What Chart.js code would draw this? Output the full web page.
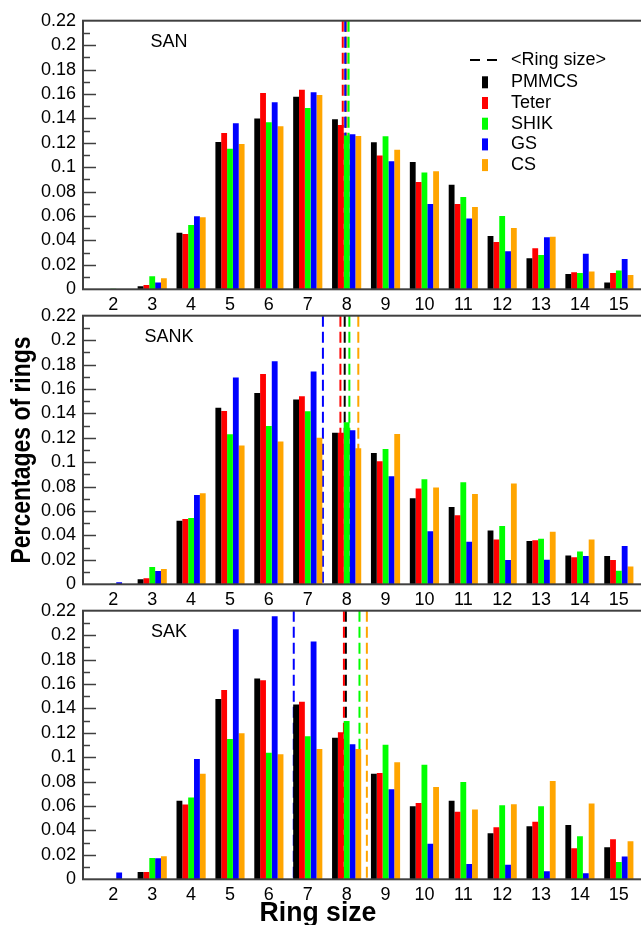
<!DOCTYPE html>
<html>
<head>
<meta charset="utf-8">
<script src="https://cdn.jsdelivr.net/npm/chart.js@4.4.1/dist/chart.umd.min.js"></script>
<style>
  html, body { margin: 0; padding: 0; background: #fff; overflow: hidden; width: 641px; height: 925px; }
  canvas { position: absolute; left: 0; }
</style>
</head>
<body>
<canvas id="san" width="660" height="320" style="top:0px"></canvas>
<canvas id="sank" width="660" height="320" style="top:295px"></canvas>
<canvas id="sak" width="660" height="335" style="top:590px"></canvas>
<script>
const ringSizes = [2, 3, 4, 5, 6, 7, 8, 9, 10, 11, 12, 13, 14, 15];
const seriesNames = ['PMMCS', 'Teter', 'SHIK', 'GS', 'CS'];
const seriesColors = ['#000000', '#ff0000', '#00ff00', '#0000ff', '#ffa500'];
const yTicks = [0, 0.02, 0.04, 0.06, 0.08, 0.1, 0.12, 0.14, 0.16, 0.18, 0.2, 0.22];
const yTickLabels = ['0', '0.02', '0.04', '0.06', '0.08', '0.1', '0.12', '0.14', '0.16', '0.18', '0.2', '0.22'];

// SAN
const sanPMMCS = [0, 0.0025, 0.0464, 0.1207, 0.1398, 0.1578, 0.1392, 0.1204, 0.1043, 0.0857, 0.0437, 0.0254, 0.0126, 0.0055];
const sanTeter = [0, 0.0035, 0.0453, 0.128, 0.1608, 0.1635, 0.1346, 0.1095, 0.0879, 0.0699, 0.0388, 0.0336, 0.0139, 0.0134];
const sanSHIK = [0.0005, 0.0106, 0.0527, 0.1152, 0.1368, 0.1485, 0.126, 0.1253, 0.0956, 0.0756, 0.0601, 0.0281, 0.0134, 0.0153];
const sanGS = [0, 0.0055, 0.0598, 0.136, 0.1532, 0.1614, 0.127, 0.1048, 0.0699, 0.0579, 0.0311, 0.0426, 0.0292, 0.0248];
const sanCS = [0, 0.009, 0.059, 0.119, 0.1335, 0.1592, 0.1256, 0.1144, 0.0966, 0.0674, 0.0502, 0.0431, 0.0145, 0.0117];
const sanMean = [7.97, 7.90, 8.05, 7.97, 8.0];

// SANK
const sankPMMCS = [0, 0.0041, 0.0521, 0.1447, 0.1567, 0.1513, 0.1242, 0.1076, 0.0704, 0.0633, 0.044, 0.0355, 0.0235, 0.0232];
const sankTeter = [0, 0.0049, 0.0535, 0.142, 0.1723, 0.154, 0.1242, 0.1007, 0.0784, 0.0565, 0.0366, 0.036, 0.0221, 0.0199];
const sankSHIK = [0.0005, 0.0142, 0.0543, 0.1229, 0.1297, 0.1417, 0.1327, 0.1108, 0.086, 0.0835, 0.0478, 0.0374, 0.0268, 0.0112];
const sankGS = [0.0016, 0.0109, 0.0732, 0.1693, 0.1827, 0.1742, 0.1261, 0.0885, 0.0434, 0.0349, 0.0199, 0.0202, 0.0232, 0.0314];
const sankCS = [0, 0.0126, 0.0745, 0.1136, 0.1169, 0.1201, 0.1114, 0.1231, 0.0792, 0.074, 0.0825, 0.0431, 0.0366, 0.0145];
const sankMean = [7.95, 7.84, 8.07, 7.39, 8.30];

// SAK
const sakPMMCS = [0, 0.006, 0.0644, 0.1477, 0.1644, 0.1431, 0.116, 0.0865, 0.0598, 0.0644, 0.0377, 0.0434, 0.0445, 0.0262];
const sakTeter = [0, 0.006, 0.0612, 0.1551, 0.163, 0.1455, 0.1204, 0.0871, 0.0625, 0.0554, 0.0426, 0.0472, 0.0254, 0.0328];
const sakSHIK = [0, 0.0175, 0.0669, 0.1149, 0.1037, 0.1171, 0.1297, 0.1103, 0.0939, 0.0797, 0.0606, 0.0598, 0.0352, 0.0142];
const sakGS = [0.0055, 0.0172, 0.0986, 0.2048, 0.2154, 0.1947, 0.1106, 0.0737, 0.0292, 0.0126, 0.012, 0.0066, 0.0049, 0.0186];
const sakCS = [0, 0.0188, 0.0865, 0.1196, 0.1024, 0.1068, 0.1068, 0.0958, 0.0756, 0.0571, 0.0614, 0.0805, 0.062, 0.0311];
const sakMean = [7.98, 7.93, 8.33, 6.64, 8.52];

const tickFont = { family: '"Liberation Sans", Arial, sans-serif', size: 18 };
const frameColor = '#404040';

// frame, inner ticks, panel name, legend and axis titles
const decor = {
  id: 'decor',
  afterDraw(chart, args, opts) {
    const { ctx, chartArea: a } = chart;
    const y = chart.scales.y;
    ctx.save();
    ctx.strokeStyle = frameColor;
    ctx.lineWidth = 2;
    ctx.strokeRect(a.left, a.top, a.right - a.left, a.bottom - a.top);
    ctx.lineWidth = 1.5;
    for (let k = 1; k < 22; k++) {
      const py = Math.round(y.getPixelForValue(k / 100)) + 0.5;
      const len = k % 2 === 0 ? 13 : 7;
      ctx.beginPath();
      ctx.moveTo(a.left, py);
      ctx.lineTo(a.left + len, py);
      ctx.stroke();
    }
    ctx.fillStyle = '#000';
    ctx.font = '18px "Liberation Sans", Arial, sans-serif';
    ctx.textAlign = 'center';
    ctx.textBaseline = 'middle';
    ctx.fillText(opts.label, 169, a.top + 21);

    if (opts.legend) {
      ctx.strokeStyle = '#000';
      ctx.lineWidth = 2;
      ctx.setLineDash([10, 7]);
      ctx.beginPath();
      ctx.moveTo(470, 60);
      ctx.lineTo(497, 60);
      ctx.stroke();
      ctx.setLineDash([]);
      ctx.textAlign = 'left';
      ctx.fillText('<Ring size>', 511, 60);
      seriesNames.forEach((n, i) => {
        const ly = 82.3 + i * 20.7;
        ctx.fillStyle = seriesColors[i];
        ctx.fillRect(482, ly - 6, 6, 12);
        ctx.fillStyle = '#000';
        ctx.fillText(n, 511, ly);
      });
    }
    ctx.fillStyle = '#000';
    ctx.font = 'bold 28px "Liberation Sans", Arial, sans-serif';
    ctx.textAlign = 'center';
    if (opts.yTitle) {
      ctx.save();
      ctx.translate(22, (a.top + a.bottom) / 2);
      ctx.rotate(-Math.PI / 2);
      ctx.scale(0.82, 1);
      ctx.textBaseline = 'middle';
      ctx.fillText(opts.yTitle, 0, 0);
      ctx.restore();
    }
    if (opts.xTitle) {
      ctx.save();
      ctx.translate(318, a.bottom + 42);
      ctx.scale(0.95, 1);
      ctx.textBaseline = 'alphabetic';
      ctx.fillText(opts.xTitle, 0, 0);
      ctx.restore();
    }
    ctx.restore();
  }
};

// lines: higher order is drawn first, bars (order 0) go over them
const lineOrder = [6, 3, 4, 2, 5];

function makePanel(id, name, values, means, extra) {
  const el = document.getElementById(id);
  const bars = values.map((vals, i) => ({
    type: 'bar',
    label: seriesNames[i],
    data: ringSizes.map((r, j) => ({ x: r, y: vals[j] })),
    backgroundColor: seriesColors[i],
    borderWidth: 0,
    order: 0
  }));
  const lines = means.map((m, i) => ({
    type: 'line',
    label: '<Ring size> ' + seriesNames[i],
    data: [{ x: m, y: 0.22 }, { x: m, y: 0 }],
    borderColor: seriesColors[i],
    borderWidth: 2,
    borderDash: [11, 5],
    pointRadius: 0,
    fill: false,
    order: lineOrder[i]
  }));
  return new Chart(el, {
    type: 'bar',
    data: { datasets: bars.concat(lines) },
    options: {
      responsive: false,
      animation: false,
      layout: { padding: { top: 20.7, right: 12, left: 0, bottom: 0 } },
      datasets: { bar: { categoryPercentage: 0.75, barPercentage: 1.0 } },
      plugins: {
        legend: { display: false },
        tooltip: { enabled: false },
        decor: Object.assign({ label: name }, extra)
      },
      scales: {
        x: {
          type: 'linear',
          offset: false,
          min: 1.22,
          max: 15.75,
          grid: { display: false, drawTicks: false, offset: false },
          border: { display: false },
          afterBuildTicks: s => { s.ticks = ringSizes.map(v => ({ value: v })); },
          afterFit: s => { s.height = el.height - 20.7 - 268.6; },
          ticks: { font: tickFont, color: '#000', padding: 5, maxRotation: 0, autoSkip: false }
        },
        y: {
          min: 0,
          max: 0.22,
          grid: { display: false, drawTicks: false },
          border: { display: false },
          afterBuildTicks: s => { s.ticks = yTicks.map(v => ({ value: v })); },
          afterFit: s => { s.width = 83; },
          ticks: { font: tickFont, color: '#000', padding: 7, autoSkip: false, callback: (v, i) => yTickLabels[i] }
        }
      }
    },
    plugins: [decor]
  });
}

makePanel('san', 'SAN', [sanPMMCS, sanTeter, sanSHIK, sanGS, sanCS], sanMean, { legend: true });
makePanel('sank', 'SANK', [sankPMMCS, sankTeter, sankSHIK, sankGS, sankCS], sankMean, { yTitle: 'Percentages of rings' });
makePanel('sak', 'SAK', [sakPMMCS, sakTeter, sakSHIK, sakGS, sakCS], sakMean, { xTitle: 'Ring size' });
</script>
</body>
</html>
